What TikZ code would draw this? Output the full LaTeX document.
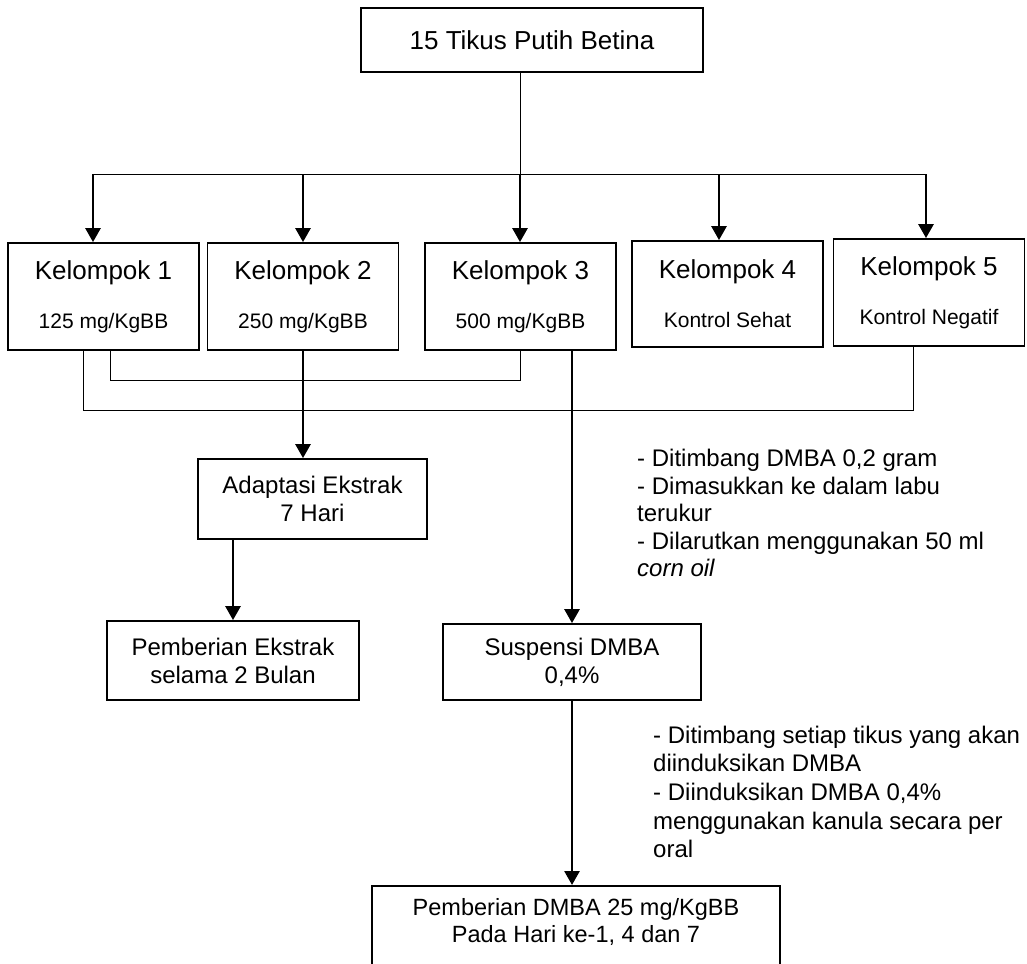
\documentclass[tikz,border=0pt]{standalone}
\usepackage{fontspec}
\setmainfont{Liberation Sans}
\usetikzlibrary{arrows.meta}
\newcommand{\subsize}{\fontsize{21}{25}\selectfont}
\tikzset{
	>={Triangle[width=15pt,length=14pt]}, % filled arrow heads
	line width=2.1pt,
	box/.style={draw, rectangle, align=center, inner sep=0pt, line width=1.8pt},
	group/.style={box, minimum width=191pt, minimum height=107pt, font=\fontsize{26}{30}\selectfont},
	stepbox/.style={box, font=\fontsize{24}{28}\selectfont},
	note/.style={align=left, anchor=north west, inner sep=0pt},
	flow/.style={->, line width=2.7pt},
}

\begin{document}
\begin{tikzpicture}[x=1pt, y=-1pt]
	\clip (0,0) rectangle (1027,963);

	\node[box, minimum width=342pt, minimum height=64pt, font=\fontsize{26}{30}\selectfont] (tikus) at (532,40) {15 Tikus Putih Betina};

	% the five groups
	\node[group] (k1) at (103.5,296.5) {Kelompok 1\\[19pt]{\subsize 125 mg/KgBB}};
	\node[group] (k2) at (303,296.5) {Kelompok 2\\[19pt]{\subsize 250 mg/KgBB}};
	\node[group] (k3) at (520.5,296.5) {Kelompok 3\\[19pt]{\subsize 500 mg/KgBB}};
	\node[group, minimum height=106pt] (k4) at (727.5,294) {Kelompok 4\\[19pt]{\subsize Kontrol Sehat}};
	\node[group] (k5) at (929,292.5) {Kelompok 5\\[19pt]{\subsize Kontrol Negatif}};

	\node[stepbox, minimum width=229pt, minimum height=80pt] (adaptasi) at (312.5,499) {Adaptasi Ekstrak\\7 Hari};
	\node[stepbox, minimum width=252pt, minimum height=79pt] (ekstrak) at (233,660.5) {Pemberian Ekstrak\\selama 2 Bulan};
	\node[stepbox, minimum width=258pt, minimum height=76pt] (suspensi) at (572,662) {Suspensi DMBA\\0,4\%};
	\node[box, minimum width=408pt, minimum height=82pt, anchor=north, font=\fontsize{23.5}{27}\selectfont] (induksi) at (576,885) {Pemberian DMBA 25 mg/KgBB\\Pada Hari ke-1, 4 dan 7\rule[-12.5pt]{0pt}{0pt}};

	% side notes
	\node[note, font=\fontsize{24}{27.5}\selectfont] (larutan) at (637,449) {- Ditimbang DMBA 0,2 gram\\- Dimasukkan ke dalam labu\\terukur\\- Dilarutkan menggunakan 50 ml\\\textit{corn oil}};
	\node[note, font=\fontsize{24}{28.7}\selectfont] (cara) at (653,725.5) {- Ditimbang setiap tikus yang akan\\diinduksikan DMBA\\- Diinduksikan DMBA 0,4\%\\menggunakan kanula secara per\\oral};

	% split into groups
	\coordinate (bar) at (520,174);
	\draw (tikus.south -| bar) -- (bar);
	\draw[line cap=rect] (93,174) -- (926,174);
	\foreach \k/\x in {k1/93, k2/303, k3/520, k4/719, k5/926}
		\draw[flow] (\x,174) -- (\x,174 |- \k.north);

	% joining the groups
	\draw (110,0 |- k1.south) -- (110,380) -| (k3.south);
	\draw (83,0 |- k1.south) -- (83,410) -| (913,0 |- k5.south);
	\draw[flow] (k2.south) -- (adaptasi.north -| k2.south);
	\draw[flow] (k3.south -| suspensi.north) -- (suspensi.north);
	\draw[flow] (adaptasi.south -| ekstrak.north) -- (ekstrak.north);
	\draw[flow] (suspensi.south) -- (induksi.north -| suspensi.south);
\end{tikzpicture}
\end{document}
